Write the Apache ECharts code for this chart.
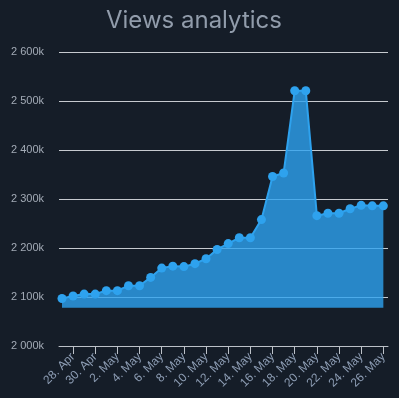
<!DOCTYPE html>
<html>
<head>
<meta charset="utf-8">
<script src="https://cdn.jsdelivr.net/npm/echarts@6/dist/echarts.min.js"></script>
<style>
	html, body { margin: 0; padding: 0; background: #151d28; }
	#chart { width: 399px; height: 398px; }
</style>
</head>
<body>
<div id="chart"></div>
<script>
// one point per day, 27 Apr .. 26 May
const dates = ['27. Apr', '28. Apr', '29. Apr', '30. Apr', '1. May', '2. May', '3. May', '4. May', '5. May', '6. May',
	'7. May', '8. May', '9. May', '10. May', '11. May', '12. May', '13. May', '14. May', '15. May', '16. May',
	'17. May', '18. May', '19. May', '20. May', '21. May', '22. May', '23. May', '24. May', '25. May', '26. May']
// views, in thousands
const views = [2097, 2102, 2106, 2106, 2113, 2113, 2123, 2123, 2140, 2159,
	2163, 2162, 2168, 2178, 2197, 2209, 2221, 2221, 2258, 2346,
	2353, 2521, 2521, 2266, 2271, 2271, 2280, 2287, 2286, 2286]
// labelled days (every second one)
const labelDays = ['28. Apr', '30. Apr', '2. May', '4. May', '6. May', '8. May', '10. May', '12. May',
	'14. May', '16. May', '18. May', '20. May', '22. May', '24. May', '26. May']
const yTicks = [2000, 2100, 2200, 2300, 2400, 2500, 2600]

const tickIdx = labelDays.map(d => dates.indexOf(d))

const fmtK = v => {
	const th = Math.floor(v / 1000)
	const rest = String(v % 1000).padStart(3, '0')
	return th + ' ' + rest + 'k'
}

const myChart = echarts.init(document.getElementById('chart'))
myChart.setOption({
	backgroundColor: '#151d28',
	animation: false,
	title: {
		text: 'Views analytics',
		left: 101,
		top: 4,
		textStyle: {
			color: '#919cab',
			fontFamily: 'Inter',
			fontWeight: 'normal',
			fontSize: 24
		}
	},
	grid: { left: 59, right: 11, top: 52, bottom: 52 },
	xAxis: {
		type: 'value',
		min: -0.27,
		max: 29.42,
		splitLine: { show: false },
		axisLine: { show: true, lineStyle: { color: '#bcc1c8', width: 1 } },
		axisTick: {
			show: true,
			customValues: tickIdx,
			length: 8,
			lineStyle: { color: '#bcc1c8' }
		},
		axisLabel: {
			customValues: tickIdx,
			rotate: 45,
			margin: 9,
			color: '#8d9db4',
			fontSize: 12,
			fontFamily: 'Liberation Sans',
			formatter: v => dates[Math.round(v)]
		}
	},
	yAxis: {
		type: 'value',
		min: yTicks[0],
		max: yTicks[yTicks.length - 1],
		interval: 100,
		axisLine: { show: false },
		axisTick: { show: false },
		splitLine: { lineStyle: { color: '#c6cacf', width: 1 } },
		axisLabel: {
			margin: 15,
			color: '#a3abb6',
			fontSize: 11,
			fontFamily: 'Liberation Sans',
			formatter: fmtK
		}
	},
	series: [
		{
			name: 'Views',
			type: 'line',
			data: views.map((v, i) => [i, v]),
			symbol: 'circle',
			symbolSize: 9,
			showSymbol: true,
			itemStyle: { color: '#2ea2ee' },
			lineStyle: { color: '#2ea2ee', width: 2 },
			areaStyle: { color: 'rgba(45, 163, 240, 0.8)', opacity: 1, origin: 2078 }
		}
	]
})
</script>
</body>
</html>
